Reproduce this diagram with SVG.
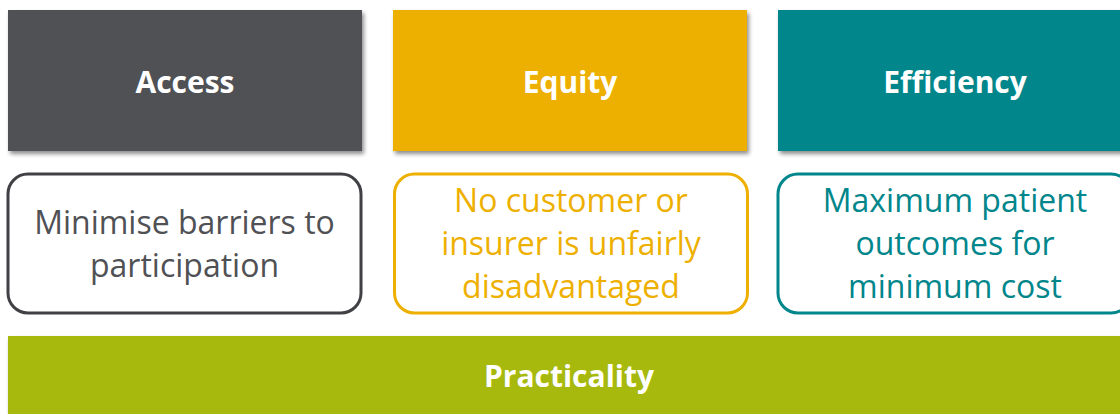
<svg xmlns="http://www.w3.org/2000/svg" width="1120" height="414" viewBox="0 0 1120 414">
  <defs>
    <filter id="shadow" x="-5%" y="-10%" width="110%" height="125%">
      <feGaussianBlur in="SourceAlpha" stdDeviation="2"/>
      <feOffset dx="2" dy="3" result="off"/>
      <feComponentTransfer><feFuncA type="linear" slope="0.45"/></feComponentTransfer>
      <feMerge><feMergeNode/><feMergeNode in="SourceGraphic"/></feMerge>
    </filter>
    <style>
      .title { font-family: "Open Sans", "Liberation Sans", sans-serif; font-weight: 700; font-size: 30px; fill: #ffffff; text-anchor: middle; }
      .desc { font-family: "Open Sans", "Liberation Sans", sans-serif; font-size: 32px; text-anchor: middle; }
      .card { fill: #ffffff; stroke-width: 3; }
    </style>
  </defs>

  <g id="access">
    <rect x="8" y="10" width="354" height="141" fill="#505155" filter="url(#shadow)"/>
    <text class="title" x="185" y="93">Access</text>
  </g>
  <g id="equity">
    <rect x="393" y="10" width="354" height="141" fill="#EEB000" filter="url(#shadow)"/>
    <text class="title" x="570" y="93">Equity</text>
  </g>
  <g id="efficiency">
    <rect x="778" y="10" width="354" height="141" fill="#00868B" filter="url(#shadow)"/>
    <text class="title" x="955" y="93">Efficiency</text>
  </g>

  <g id="access-goal">
    <rect class="card" x="8" y="174" width="353" height="139" rx="20" stroke="#404145"/>
    <text class="desc" fill="#505155" x="184.5" y="234">Minimise barriers to</text>
    <text class="desc" fill="#505155" x="184.5" y="277">participation</text>
  </g>
  <g id="equity-goal">
    <rect class="card" x="394.5" y="174" width="353" height="139" rx="20" stroke="#EEB000"/>
    <text class="desc" fill="#EEB000" x="571" y="212">No customer or</text>
    <text class="desc" fill="#EEB000" x="571" y="255">insurer is unfairly</text>
    <text class="desc" fill="#EEB000" x="571" y="298">disadvantaged</text>
  </g>
  <g id="efficiency-goal">
    <rect class="card" x="778" y="174" width="353" height="139" rx="20" stroke="#00868B"/>
    <text class="desc" fill="#00868B" x="955" y="212">Maximum patient</text>
    <text class="desc" fill="#00868B" x="955" y="255">outcomes for</text>
    <text class="desc" fill="#00868B" x="955" y="298">minimum cost</text>
  </g>

  <g id="practicality">
    <rect x="8" y="336" width="1130" height="78" fill="#A8B90A" filter="url(#shadow)"/>
    <text class="title" x="569" y="387">Practicality</text>
  </g>

  <g id="connectors"/>
</svg>
